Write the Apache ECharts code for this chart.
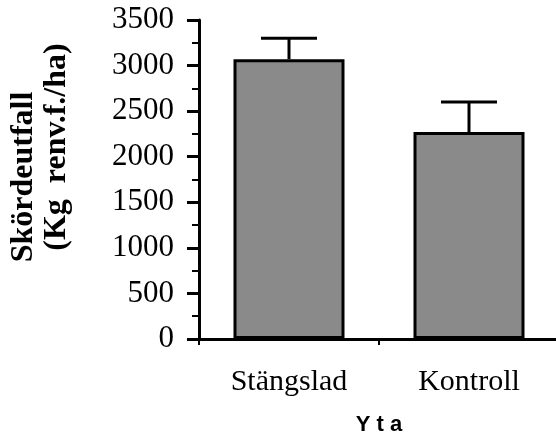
<!DOCTYPE html>
<html>
<head>
<meta charset="utf-8">
<script src="https://cdn.jsdelivr.net/npm/echarts@6/dist/echarts.min.js"></script>
<style>
  html, body { margin: 0; padding: 0; background: #fff; }
  #chart { width: 556px; height: 434px; }
</style>
</head>
<body>
<div id="chart"></div>
<script>
// values
var categories = ['Stängslad', 'Kontroll'];
var yield_means = [3070, 2270];
var yield_err = [230, 330];
var yTicks = { min: 0, max: 3500, step: 500 };

var mychart = echarts.init(document.getElementById('chart'));

var serif = '"Liberation Serif", "Times New Roman", serif';

var option = {
  animation: false,
  grid: { left: 199, right: -3, top: 20, bottom: 95, outerBoundsMode: 'none', containLabel: false },
  xAxis: {
    type: 'category',
    data: categories,
    name: 'Y t a',
    nameLocation: 'middle',
    nameGap: 75,
    nameTextStyle: { fontFamily: '"Liberation Sans", Arial, sans-serif', fontWeight: 'bold', fontSize: 22, color: '#000' },
    axisLine: { lineStyle: { color: '#000', width: 3 } },
    axisTick: { show: true, length: 6, lineStyle: { color: '#000', width: 2 } },
    axisLabel: { margin: 28, fontFamily: serif, fontSize: 30, color: '#000' }
  },
  yAxis: {
    type: 'value',
    min: yTicks.min,
    max: yTicks.max,
    interval: yTicks.step,
    splitLine: { show: false },
    axisLine: { show: true, lineStyle: { color: '#000', width: 3 } },
    axisTick: { show: true, length: 12, lineStyle: { color: '#000', width: 3 } },
    minorTick: { show: true, splitNumber: 2, length: 7, lineStyle: { color: '#000', width: 2 } },
    axisLabel: {
      margin: 25, fontFamily: serif, fontSize: 31, color: '#000',
      formatter: function (v) { return String(v); }
    }
  },
  graphic: [
    {
      type: 'text', x: 24, y: 177, rotation: Math.PI / 2,
      style: { text: 'Skördeutfall', font: 'bold 32px ' + serif, fill: '#000', align: 'center', verticalAlign: 'middle' }
    },
    {
      type: 'text', x: 57, y: 147, rotation: Math.PI / 2,
      style: { text: '(Kg  renv.f./ha)', font: 'bold 32px ' + serif, fill: '#000', align: 'center', verticalAlign: 'middle' }
    }
  ],
  series: [
    {
      type: 'bar',
      data: yield_means,
      barWidth: 111,
      itemStyle: { color: '#8a8a8a', borderColor: '#000', borderWidth: 3 }
    },
    {
      type: 'custom',
      data: yield_means.map(function (m, i) { return [i, m, m + yield_err[i]]; }),
      z: 5,
      renderItem: function (params, api) {
        var base = api.coord([api.value(0), api.value(1)]);
        var top = api.coord([api.value(0), api.value(2)]);
        var half = 28;
        var st = { stroke: '#000', lineWidth: 3 };
        return {
          type: 'group',
          children: [
            { type: 'line', shape: { x1: top[0], y1: base[1], x2: top[0], y2: top[1] }, style: st },
            { type: 'line', shape: { x1: top[0] - half, y1: top[1], x2: top[0] + half, y2: top[1] }, style: st }
          ]
        };
      }
    }
  ]
};

mychart.setOption(option);
</script>
</body>
</html>
